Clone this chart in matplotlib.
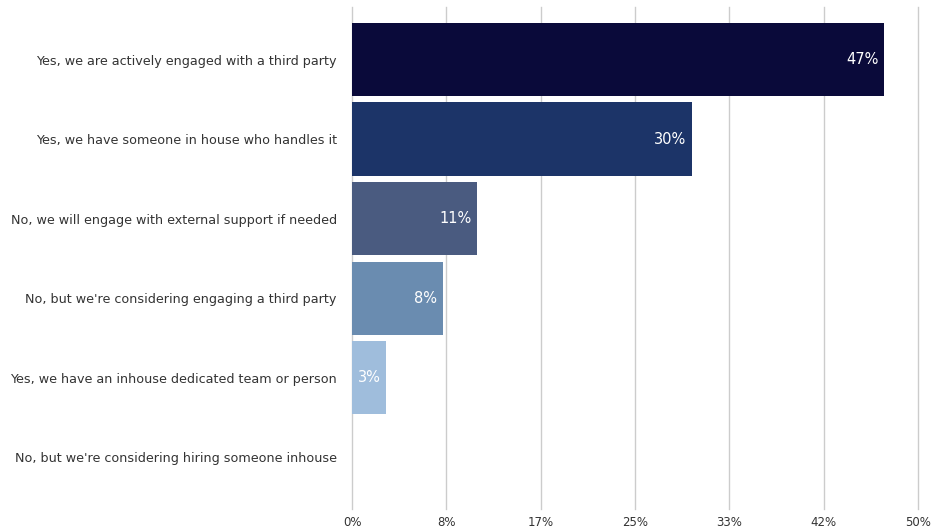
import matplotlib
matplotlib.use("Agg")
import matplotlib.pyplot as plt
from matplotlib.ticker import FixedLocator

categories = [
    "Yes, we are actively engaged with a third party",
    "Yes, we have someone in house who handles it",
    "No, we will engage with external support if needed",
    "No, but we're considering engaging a third party",
    "Yes, we have an inhouse dedicated team or person",
    "No, but we're considering hiring someone inhouse",
]
values = [47, 30, 11, 8, 3, 0]
bar_colors = ["#0a0a3a", "#1c3468", "#4a5b80", "#6a8cb0", "#9fbddc", "#c8d8ea"]
tick_values = [0, 50 / 6, 100 / 6, 25, 200 / 6, 250 / 6, 50]

W, H, DPI = 939, 531, 100
fig = plt.figure(figsize=(W / DPI, H / DPI), dpi=DPI)
ax = fig.add_axes([352 / W, (H - 509) / H, (918 - 352) / W, (509 - 7) / H])

font = "DejaVu Sans"
ypos = list(range(len(categories)))
ax.barh(ypos, values, height=0.92, color=bar_colors, zorder=3)

for y, v in zip(ypos, values):
    if v > 0:
        ax.text(v - 0.45, y, f"{v}%", ha="right", va="center",
                color="white", fontsize=10.5, family=font, zorder=4)

ax.set_xlim(0, 50)
ax.set_ylim(5.65, -0.66)
ax.xaxis.set_major_locator(FixedLocator(tick_values))
ax.set_xticklabels([f"{t:.0f}%" for t in tick_values], family=font,
                   fontsize=8.5, color="#333333")
ax.set_yticks(ypos)
ax.set_yticklabels(categories, family=font, fontsize=9.2, color="#333333")
ax.tick_params(axis="both", length=0)
ax.tick_params(axis="x", pad=5)
ax.tick_params(axis="y", pad=11)
ax.grid(axis="x", color="#cccccc", linewidth=1, zorder=0)
for line in ax.get_xgridlines():
    line.set_clip_on(False)
ax.axvline(0, color="#b0b0b0", linewidth=1.2, zorder=1)
for s in ax.spines.values():
    s.set_visible(False)

fig.savefig("out.png", dpi=DPI)
